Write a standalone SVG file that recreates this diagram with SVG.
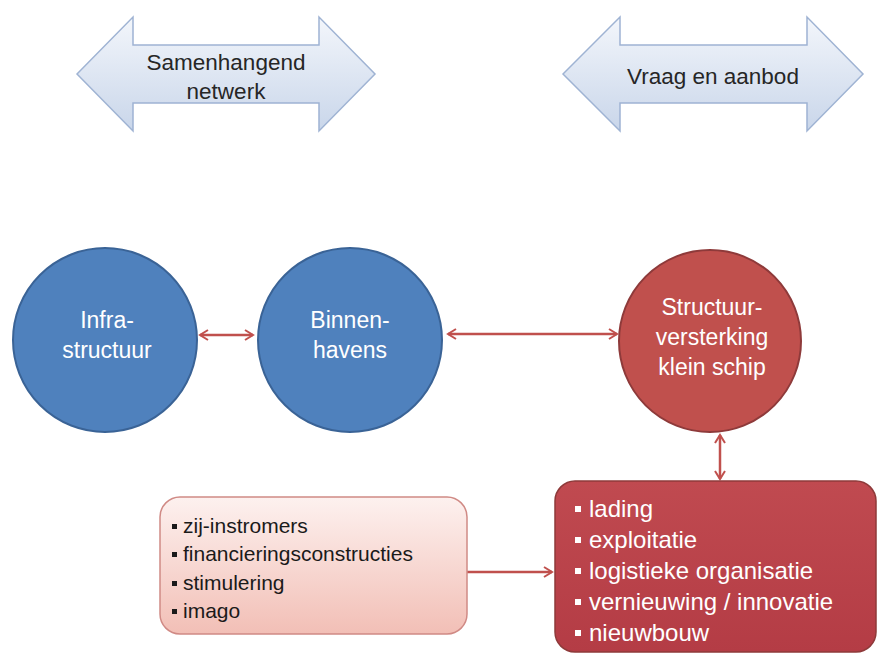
<svg xmlns="http://www.w3.org/2000/svg" width="878" height="654" viewBox="0 0 878 654">
<defs>
<linearGradient id="gBlueArrow" x1="0" y1="0" x2="0" y2="1">
<stop offset="0" stop-color="#f3f6fb"/>
<stop offset="1" stop-color="#c9d6ea"/>
</linearGradient>
<linearGradient id="gPink" x1="0" y1="0" x2="0" y2="1">
<stop offset="0" stop-color="#fdf1ef"/>
<stop offset="1" stop-color="#f2bfb6"/>
</linearGradient>
<linearGradient id="gRed" x1="0" y1="0" x2="0" y2="1">
<stop offset="0" stop-color="#c04a50"/>
<stop offset="1" stop-color="#b43c45"/>
</linearGradient>
<marker id="ah" viewBox="0 0 12 12" refX="10" refY="6" markerWidth="12" markerHeight="12" markerUnits="userSpaceOnUse" orient="auto-start-reverse">
<path d="M2,1 L10,6 L2,11" fill="none" stroke="#c0504d" stroke-width="2"/>
</marker>
</defs>
<style>
.bigarrow{fill:url(#gBlueArrow);stroke:#9fb3d3;stroke-width:1.5}
.t{font-family:"Liberation Sans",Arial,sans-serif}
.dark{fill:#262626;font-size:22.5px;text-anchor:middle}
.blue{fill:#4f81bd;stroke:#3a6396;stroke-width:2}
.red{fill:#c0504d;stroke:#8e3a3a;stroke-width:2}
.ctext{fill:#ffffff;font-size:23px;text-anchor:middle}
.conn{stroke:#c0504d;stroke-width:2.5;fill:none}
.ltext{fill:#1a1a1a;font-size:21px}
.rtext{fill:#ffffff;font-size:24px}
</style>
<rect width="878" height="654" fill="#ffffff"/>
<g id="arrow-samenhangend">
<path class="bigarrow" d="M77,74 L133,17 L133,45 L319,45 L319,17 L375,74 L319,131 L319,103 L133,103 L133,131 Z"/>
<text class="t dark" x="226" y="70">Samenhangend</text>
<text class="t dark" x="226" y="99">netwerk</text>
</g>
<g id="arrow-vraag">
<path class="bigarrow" d="M563,74 L620,17 L620,45 L807,45 L807,17 L863,74 L807,131 L807,103 L620,103 L620,131 Z"/>
<text class="t dark" x="713" y="84">Vraag en aanbod</text>
</g>
<g id="connectors">
<line class="conn" x1="200" y1="335" x2="253" y2="335" marker-start="url(#ah)" marker-end="url(#ah)"/>
<line class="conn" x1="448" y1="334" x2="617" y2="334" marker-start="url(#ah)" marker-end="url(#ah)"/>
<line class="conn" x1="720" y1="435" x2="720" y2="479" marker-start="url(#ah)" marker-end="url(#ah)"/>
<line class="conn" x1="467" y1="572" x2="552" y2="572" marker-end="url(#ah)"/>
</g>
<g id="node-infrastructuur">
<circle class="blue" cx="105" cy="340" r="92"/>
<text class="t ctext" x="107" y="328">Infra-</text>
<text class="t ctext" x="107" y="358">structuur</text>
</g>
<g id="node-binnenhavens">
<circle class="blue" cx="350" cy="340" r="92"/>
<text class="t ctext" x="350" y="328">Binnen-</text>
<text class="t ctext" x="350" y="358">havens</text>
</g>
<g id="node-structuurversterking">
<circle class="red" cx="710" cy="341" r="91"/>
<text class="t ctext" x="712" y="315">Structuur-</text>
<text class="t ctext" x="712" y="345">versterking</text>
<text class="t ctext" x="712" y="375">klein schip</text>
</g>
<g id="node-factoren">
<rect x="160" y="497" width="307" height="137" rx="20" ry="20" fill="url(#gPink)" stroke="#d08a85" stroke-width="1.5"/>
<rect x="172" y="524" width="5" height="5" fill="#1a1a1a"/>
<text class="t ltext" x="183" y="533">zij-instromers</text>
<rect x="172" y="552" width="5" height="5" fill="#1a1a1a"/>
<text class="t ltext" x="183" y="561">financieringsconstructies</text>
<rect x="172" y="581" width="5" height="5" fill="#1a1a1a"/>
<text class="t ltext" x="183" y="590">stimulering</text>
<rect x="172" y="609" width="5" height="5" fill="#1a1a1a"/>
<text class="t ltext" x="183" y="618">imago</text>
</g>
<g id="node-aspecten">
<rect x="555" y="481" width="321" height="171" rx="20" ry="20" fill="url(#gRed)" stroke="#8e3a3a" stroke-width="1.5"/>
<rect x="575" y="506" width="6" height="6" fill="#ffffff"/>
<text class="t rtext" x="589" y="517">lading</text>
<rect x="575" y="537" width="6" height="6" fill="#ffffff"/>
<text class="t rtext" x="589" y="548">exploitatie</text>
<rect x="575" y="568" width="6" height="6" fill="#ffffff"/>
<text class="t rtext" x="589" y="579">logistieke organisatie</text>
<rect x="575" y="599" width="6" height="6" fill="#ffffff"/>
<text class="t rtext" x="589" y="610">vernieuwing / innovatie</text>
<rect x="575" y="630" width="6" height="6" fill="#ffffff"/>
<text class="t rtext" x="589" y="641">nieuwbouw</text>
</g>
</svg>
